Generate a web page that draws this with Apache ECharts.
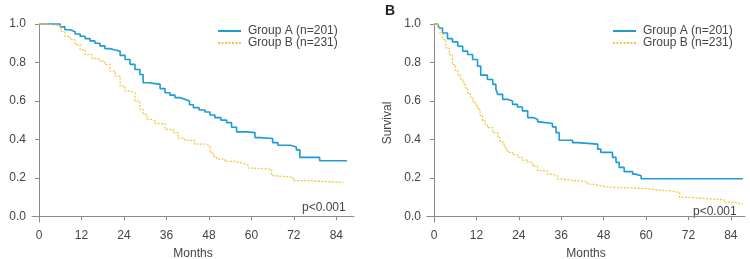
<!DOCTYPE html>
<html>
<head>
<meta charset="utf-8">
<script src="https://cdn.jsdelivr.net/npm/echarts@6/dist/echarts.min.js"></script>
<style>
  html, body { margin: 0; padding: 0; background: #fff; }
  #chart { width: 750px; height: 259px; }
</style>
</head>
<body>
<div id="chart"></div>
<script>
// tick labels
var monthTicks = [0, 12, 24, 36, 48, 60, 72, 84]
var survTicks = [0, 0.2, 0.4, 0.6, 0.8, 1.0]
var names = ['Group A (n=201)', 'Group B (n=231)']

// panel A (left) - [month, survival] at each step
var leftA = [[0,1],[6,0.985],[7.3,0.97],[8.8,0.96],[10.2,0.948],[11.6,0.936],[13,0.924],[14.4,0.912],[15.8,0.9],[17.2,0.886],[18.6,0.872],[20,0.865],[21.5,0.859],[22.9,0.837],[24.3,0.815],[25.7,0.79],[27.1,0.763],[28.5,0.737],[29.4,0.694],[31,0.69],[32.8,0.686],[34.2,0.664],[35.6,0.642],[37,0.63],[38.4,0.617],[39.8,0.608],[41.2,0.599],[42.5,0.58],[43.6,0.565],[45.2,0.553],[46.9,0.542],[48.3,0.527],[49.7,0.513],[51.4,0.5],[53,0.487],[54.4,0.463],[55.8,0.439],[58.6,0.435],[61,0.409],[62.4,0.404],[66,0.383],[67.5,0.369],[71,0.36],[72.7,0.345],[73.7,0.306],[79.3,0.289],[87,0.289]]
var leftB = [[0,1],[2.4,0.99],[6.2,0.96],[7.3,0.936],[8.8,0.919],[10.2,0.893],[11.6,0.867],[13,0.841],[14.9,0.82],[17.2,0.807],[18.6,0.789],[20,0.755],[21.5,0.729],[22.9,0.677],[24.3,0.651],[25.7,0.642],[27.1,0.599],[28.5,0.556],[29.4,0.53],[30.5,0.505],[31.3,0.496],[32.8,0.482],[35.6,0.452],[37.9,0.435],[39.3,0.406],[41.2,0.395],[44,0.375],[46.9,0.366],[48.3,0.332],[49.3,0.31],[50.2,0.297],[52.5,0.285],[55.3,0.275],[57.7,0.266],[59.1,0.25],[60.5,0.244],[65.7,0.211],[66.5,0.202],[71.8,0.185],[76,0.176],[86,0.176]]

// panel B (right)
var rightA = [[0,1],[1,0.99],[1.5,0.979],[2.4,0.953],[3.8,0.924],[5.2,0.907],[6.7,0.884],[8.1,0.859],[9.5,0.841],[10.9,0.815],[12.3,0.781],[13.2,0.734],[15.1,0.711],[16.6,0.686],[17.5,0.66],[18,0.634],[19.4,0.608],[20.8,0.599],[22.2,0.582],[23.6,0.568],[25,0.548],[26.5,0.513],[27.9,0.504],[29.3,0.491],[29.9,0.482],[33.5,0.465],[34.5,0.435],[35.4,0.395],[39.2,0.383],[40.6,0.375],[46.3,0.349],[47.2,0.332],[50.5,0.306],[51.5,0.28],[52.4,0.254],[53.8,0.232],[56.2,0.219],[57,0.211],[58.6,0.195],[87.4,0.195]]
var rightB = [[0,1],[1,0.98],[1.7,0.95],[2.4,0.919],[3.3,0.876],[4.3,0.841],[5.2,0.789],[6,0.76],[6.7,0.737],[7.4,0.715],[8.1,0.694],[8.8,0.668],[9.5,0.642],[10.2,0.62],[10.9,0.599],[11.6,0.578],[12.3,0.556],[13,0.525],[13.7,0.496],[14.4,0.478],[15.1,0.461],[16.6,0.435],[18,0.409],[18.7,0.39],[19.4,0.375],[20.1,0.352],[20.8,0.332],[22.2,0.32],[23.6,0.306],[25,0.292],[26.5,0.28],[27.9,0.26],[29.3,0.237],[32.1,0.219],[33.5,0.211],[34.9,0.193],[36.4,0.185],[40,0.18],[43.4,0.167],[44.9,0.159],[46.8,0.15],[50,0.147],[56.2,0.142],[61.4,0.136],[63.3,0.132],[67,0.124],[69.5,0.098],[72.6,0.09],[77.9,0.086],[82.1,0.073],[85,0.067],[86.8,0.061],[87.4,0.058]]

var blue = '#1d9bd6'
var yellow = '#f5c443'
var axisCol = '#8a8a8a'
var textCol = '#444'
var font = 'Liberation Sans, Arial, sans-serif'

function xAx(idx, max) {
  return {
    type: 'value', gridIndex: idx, min: -2, max: max,
    name: 'Months', nameLocation: 'middle', nameGap: 26,
    nameTextStyle: {color: textCol, fontSize: 12, fontFamily: font},
    axisLine: {lineStyle: {color: axisCol, width: 1}},
    axisTick: {customValues: monthTicks, length: 4, lineStyle: {color: axisCol}},
    axisLabel: {customValues: monthTicks, color: textCol, fontSize: 12, fontFamily: font, margin: 8},
    splitLine: {show: false}
  }
}

function yAx(idx, name) {
  return {
    type: 'value', gridIndex: idx, min: -0.03, max: 1,
    name: name, nameLocation: 'middle', nameGap: 33,
    nameTextStyle: {color: textCol, fontSize: 12, fontFamily: font},
    axisLine: {show: true, lineStyle: {color: axisCol, width: 1}},
    axisTick: {show: true, customValues: survTicks, length: 4, lineStyle: {color: axisCol}},
    axisLabel: {customValues: survTicks, color: textCol, fontSize: 12, fontFamily: font, margin: 6,
      formatter: function(v) { return v.toFixed(1) }},
    splitLine: {show: false}
  }
}

function km(name, data, idx, color, dashed) {
  return {
    name: name, type: 'line', step: 'end', data: data,
    xAxisIndex: idx, yAxisIndex: idx,
    showSymbol: false, symbol: 'none', clip: false,
    lineStyle: dashed ? {color: color, width: 1.3, type: [2, 1.5]} : {color: color, width: 1.6},
    itemStyle: {color: color}
  }
}

function legendAt(left) {
  return {
    orient: 'vertical', left: left, top: 20, itemWidth: 23, itemHeight: 12, itemGap: 0,
    data: names, selectedMode: false, itemStyle: {opacity: 0},
    textStyle: {color: textCol, fontSize: 12, fontFamily: font, padding: [0, 0, 0, 2]}
  }
}

var chart = echarts.init(document.getElementById('chart'), null, {renderer: 'canvas'})
chart.setOption({
  animation: false,
  grid: [
    {left: 32, top: 24, width: 322, height: 198, outerBoundsMode: 'none'},
    {left: 427, top: 24, width: 318, height: 198, outerBoundsMode: 'none'}
  ],
  xAxis: [xAx(0, 89), xAx(1, 88)],
  yAxis: [yAx(0, ''), yAx(1, 'Survival')],
  legend: [legendAt(212), legendAt(607)],
  series: [
    km(names[0], leftA, 0, blue, false),
    km(names[1], leftB, 0, yellow, true),
    km(names[0], rightA, 1, blue, false),
    km(names[1], rightB, 1, yellow, true)
  ],
  graphic: [
    {type: 'text', left: 302, top: 202, style: {text: 'p<0.001', fill: textCol, font: '12px ' + font}},
    {type: 'text', left: 693, top: 206, style: {text: 'p<0.001', fill: textCol, font: '12px ' + font}},
    {type: 'text', left: 385, top: 4, style: {text: 'B', fill: '#222', font: 'bold 14px ' + font}}
  ]
})
</script>
</body>
</html>
